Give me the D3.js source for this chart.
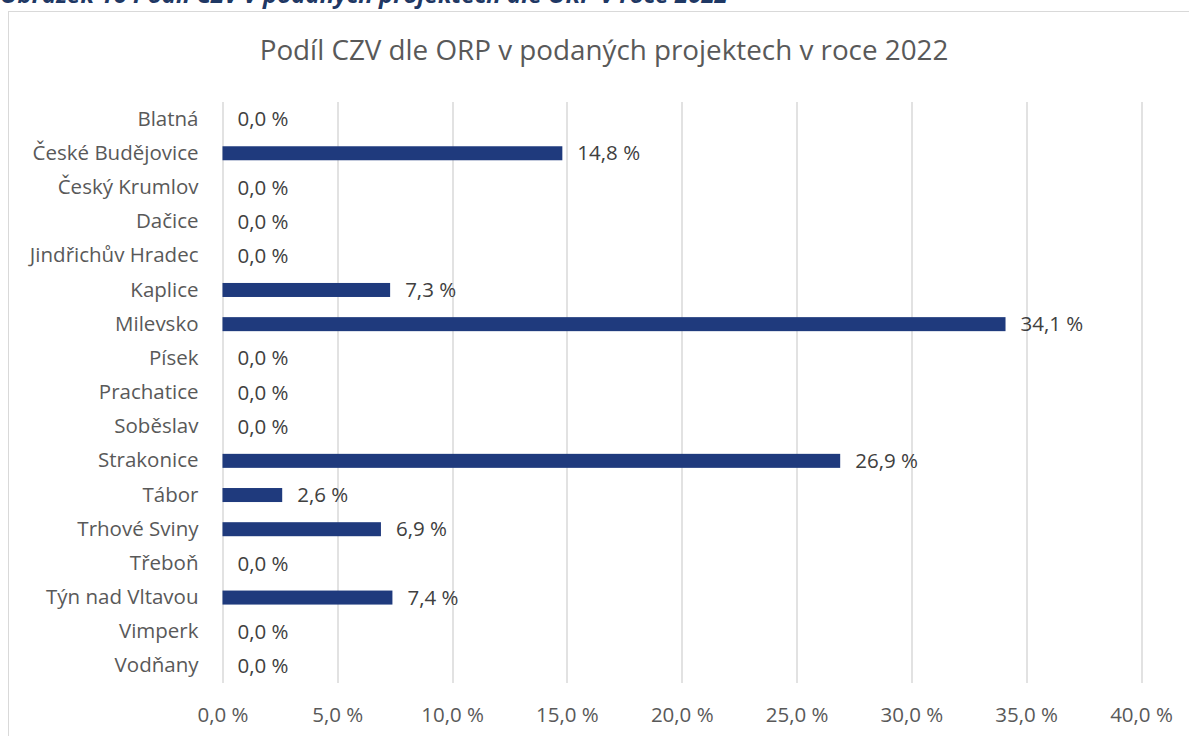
<!DOCTYPE html>
<html>
<head>
<meta charset="utf-8">
<script src="https://cdn.jsdelivr.net/npm/d3@7"></script>
<style>
  body { margin: 0; background: #fff; }
  svg { display: block; }
</style>
</head>
<body>
<svg width="1189" height="736"></svg>
<script>
const svg = d3.select('svg');

// data
const categories = ["Blatná", "České Budějovice", "Český Krumlov", "Dačice", "Jindřichův Hradec",
  "Kaplice", "Milevsko", "Písek", "Prachatice", "Soběslav", "Strakonice", "Tábor",
  "Trhové Sviny", "Třeboň", "Týn nad Vltavou", "Vimperk", "Vodňany"];
const values = [0, 14.8, 0, 0, 0, 7.3, 34.1, 0, 0, 0, 26.9, 2.6, 6.9, 0, 7.4, 0, 0];
const xTicks = [0, 5, 10, 15, 20, 25, 30, 35, 40];

const caption = "Obrázek 16 Podíl CZV v podaných projektech dle ORP v roce 2022";
const title = "Podíl CZV dle ORP v podaných projektech v roce 2022";

const margin = {left: 222.5, right: 48, top: 102, bottom: 53};
const width = 1189 - margin.left - margin.right;
const height = 736 - margin.top - margin.bottom;

const fmt = v => v.toFixed(1).replace('.', ',') + ' %';
const font = "'Open Sans', sans-serif";
const labelSize = 20.5;

// cut-off figure caption above the chart frame
svg.append('text')
  .attr('x', 0)
  .attr('y', 3)
  .attr('font-family', font)
  .attr('font-size', 24)
  .attr('font-weight', 'bold')
  .attr('font-style', 'italic')
  .attr('fill', '#1f3864')
  .text(caption);

// chart frame
svg.append('rect')
  .attr('x', 8.5)
  .attr('y', 11.5)
  .attr('width', 1200)
  .attr('height', 740)
  .attr('fill', '#fff')
  .attr('stroke', '#d9d9d9')
  .attr('stroke-width', 1);

// title
svg.append('text')
  .attr('x', 604)
  .attr('y', 60)
  .attr('text-anchor', 'middle')
  .attr('font-family', font)
  .attr('font-size', 27.8)
  .attr('fill', '#595959')
  .text(title);

const xScale = d3.scaleLinear().domain([0, 40]).range([0, width]);
const yScale = d3.scaleBand().domain(categories).range([0, height]).paddingInner(0.59).paddingOuter(0.295);

const g = svg.append('g').attr('transform', 'translate(' + margin.left + ',' + margin.top + ')');

// vertical gridlines
g.append('g')
  .selectAll('line')
  .data(xTicks)
  .enter()
  .append('line')
  .attr('x1', d => Math.round(xScale(d)) + 0.5)
  .attr('x2', d => Math.round(xScale(d)) + 0.5)
  .attr('y1', 0)
  .attr('y2', height)
  .attr('stroke', '#d9d9d9')
  .attr('stroke-width', 1.5);

// x axis tick labels
const xAxis = g.append('g')
  .attr('transform', 'translate(0,' + height + ')')
  .call(d3.axisBottom(xScale).tickValues(xTicks).tickFormat(fmt).tickSize(0).tickPadding(24));
xAxis.select('.domain').remove();
xAxis.selectAll('text')
  .attr('font-family', font)
  .attr('font-size', labelSize)
  .attr('fill', '#595959');

// y axis category labels
const yAxis = g.append('g')
  .call(d3.axisLeft(yScale).tickSize(0).tickPadding(24));
yAxis.select('.domain').remove();
yAxis.selectAll('text')
  .attr('font-family', font)
  .attr('font-size', labelSize)
  .attr('fill', '#595959');

// bars
g.append('g')
  .selectAll('rect')
  .data(values)
  .enter()
  .append('rect')
  .attr('x', 0)
  .attr('y', (d, i) => yScale(categories[i]))
  .attr('width', d => xScale(d))
  .attr('height', yScale.bandwidth())
  .attr('fill', '#1f3a7d');

// value labels
g.append('g')
  .selectAll('text')
  .data(values)
  .enter()
  .append('text')
  .attr('x', d => xScale(d) + 15)
  .attr('y', (d, i) => yScale(categories[i]) + yScale.bandwidth() / 2)
  .attr('dy', '0.35em')
  .attr('font-family', font)
  .attr('font-size', labelSize)
  .attr('fill', '#404040')
  .text(d => fmt(d));
</script>
</body>
</html>
